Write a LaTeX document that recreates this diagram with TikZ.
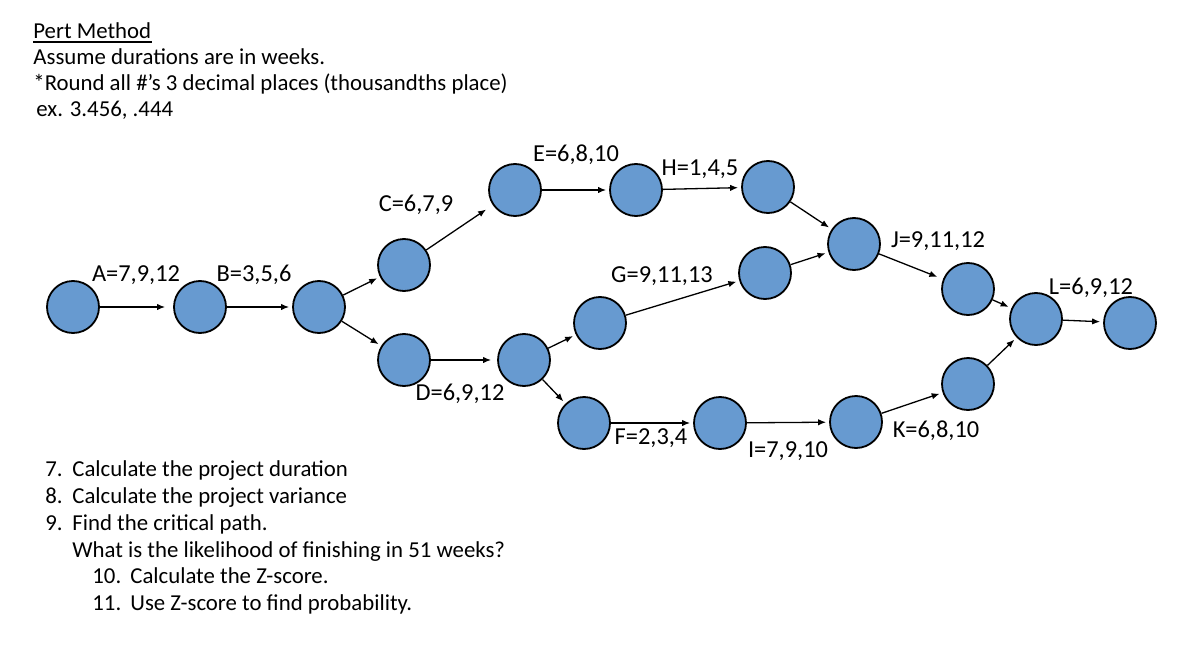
\documentclass[tikz,border=0pt]{standalone}
\usepackage{fontspec}
\setmainfont{Carlito}
\usetikzlibrary{arrows.meta}
\definecolor{pertblue}{RGB}{103,154,208}

\begin{document}
\begin{tikzpicture}[x=0.5pt,y=-0.5pt,>={Latex[length=4pt,width=3.2pt]},
  ev/.style={circle,draw,line width=0.9pt,fill=pertblue,minimum size=26pt,inner sep=0pt},
  act/.style={->,line width=0.65pt,shorten >=1.5pt},
  lbl/.style={font=\fontsize{12.2}{14}\selectfont,inner sep=0pt,anchor=base},
  txt/.style={font=\fontsize{11.4}{13.5}\selectfont,inner sep=0pt,anchor=base west}]
  \useasboundingbox (0,0) rectangle (1178,658);

  % heading
  \node[txt] (head) at (33,39) {Pert Method};
  \draw[line width=1.2pt] ([yshift=-1.5pt]head.base west) -- ([yshift=-1.5pt]head.base east);
  \node[txt] (t1) at (33,65) {Assume durations are in weeks.};
  \node[txt] (t2) at (33,91) {*Round all \#’s 3 decimal places (thousandths place)};
  \node[txt] (t3) at (36,117) {ex. 3.456, .444};

  % events
  \node[ev] (e1) at (73,307) {};
  \node[ev] (e2) at (200,307) {};
  \node[ev] (e3) at (319,307) {};
  \node[ev] (e4) at (404,265) {};
  \node[ev] (e5) at (515,190) {};
  \node[ev] (e6) at (636,190) {};
  \node[ev] (e7) at (768,187) {};
  \node[ev] (e8) at (404,360) {};
  \node[ev] (e9) at (524,360) {};
  \node[ev] (e10) at (600,323) {};
  \node[ev] (e11) at (765,273) {};
  \node[ev] (e12) at (854,244) {};
  \node[ev] (e13) at (968,289) {};
  \node[ev] (e14) at (584,423) {};
  \node[ev] (e15) at (720,423) {};
  \node[ev] (e16) at (856,422) {};
  \node[ev] (e17) at (968,384) {};
  \node[ev] (e18) at (1036,319) {};
  \node[ev] (e19) at (1130,323) {};

  % activities
  \draw[act,shorten >=4pt] (e1) -- (e2);
  \draw[act] (e2) -- (e3);
  \draw[act] (e3) -- (e4);
  \draw[act,shorten >=4pt] (e4) -- (e5);
  \draw[act] (e5) -- (e6);
  \draw[act] (e6) -- (e7);
  \draw[act] (e7) -- (e12);
  \draw[act] (e3) -- (e8);
  \draw[act,shorten >=3pt] (e8) -- (e9);
  \draw[act] (e9) -- (e10);
  \draw[act] (e10) -- (e11);
  \draw[act] (e11) -- (e12);
  \draw[act,shorten >=3pt] (e12) -- (e13);
  \draw[act] (e13) -- (e18);
  \draw[act] (e18) -- (e19);
  \draw[act] (e9) -- (e14);
  \draw[act] (e14) -- (e15);
  \draw[act] (e15) -- (e16);
  \draw[act] (e16) -- (e17);
  \draw[act] (e17) -- (e18);

  % labels
  \node[lbl] (lA) at (136,281) {A=7,9,12};
  \node[lbl] (lB) at (254,281) {B=3,5,6};
  \node[lbl] (lC) at (416,211) {C=6,7,9};
  \node[lbl] (lE) at (576,162) {E=6,8,10};
  \node[lbl] (lH) at (700,176) {H=1,4,5};
  \node[lbl] (lJ) at (938,247) {J=9,11,12};
  \node[lbl] (lG) at (662,282) {G=9,11,13};
  \node[lbl] (lD) at (460,400) {D=6,9,12};
  \node[lbl] (lF) at (651,444) {F=2,3,4};
  \node[lbl] (lI) at (788,457) {I=7,9,10};
  \node[lbl] (lK) at (936,437) {K=6,8,10};
  \node[lbl] (lL) at (1091,294) {L=6,9,12};

  % questions
  \node[txt] (q7) at (45,476) {7.};
  \node[txt] (q7t) at (72,476) {Calculate the project duration};
  \node[txt] (q8) at (45,503) {8.};
  \node[txt] (q8t) at (72,503) {Calculate the project variance};
  \node[txt] (q9) at (45,530) {9.};
  \node[txt] (q9t) at (72,530) {Find the critical path.};
  \node[txt] (q9w) at (72,557) {What is the likelihood of finishing in 51 weeks?};
  \node[txt] (q10) at (92,583) {10.};
  \node[txt] (q10t) at (130,583) {Calculate the Z-score.};
  \node[txt] (q11) at (92,610) {11.};
  \node[txt] (q11t) at (130,610) {Use Z-score to find probability.};
\end{tikzpicture}
\end{document}
